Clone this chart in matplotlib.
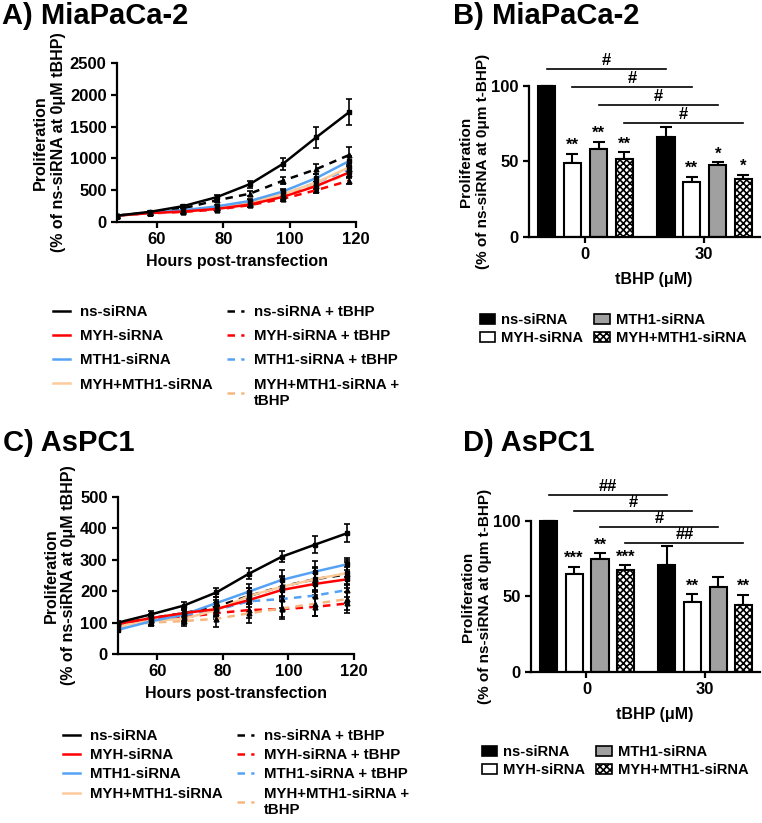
import matplotlib
matplotlib.use('Agg')
import matplotlib.pyplot as plt
from matplotlib.lines import Line2D
from matplotlib.patches import Patch
import numpy as np

plt.rcParams['font.family'] = ['Liberation Sans', 'DejaVu Sans']
plt.rcParams['font.weight'] = 'bold'
plt.rcParams['axes.labelweight'] = 'bold'
plt.rcParams['axes.linewidth'] = 1.6
plt.rcParams['xtick.major.width'] = 1.6
plt.rcParams['ytick.major.width'] = 1.6
plt.rcParams['xtick.major.size'] = 4
plt.rcParams['ytick.major.size'] = 4
plt.rcParams['hatch.linewidth'] = 1.2

# ---- data ----
hours = [48, 58, 68, 78, 88, 98, 108, 118]
line_labels = ['ns-siRNA', 'MYH-siRNA', 'MTH1-siRNA', 'MYH+MTH1-siRNA',
               'ns-siRNA + tBHP', 'MYH-siRNA + tBHP', 'MTH1-siRNA + tBHP',
               'MYH+MTH1-siRNA +\ntBHP']
line_colors = ['black', '#ff0000', '#55a2f5', '#fdcb9c',
               'black', '#ff0000', '#55a2f5', '#f6b77e']

mia_vals = [
    [100, 160, 250, 390, 595, 915, 1330, 1730],
    [100, 140, 165, 205, 275, 395, 565, 780],
    [100, 145, 185, 245, 330, 480, 690, 960],
    [100, 140, 175, 230, 310, 440, 620, 860],
    [100, 150, 215, 340, 445, 650, 830, 1055],
    [100, 135, 160, 195, 265, 365, 500, 650],
    [100, 140, 175, 225, 300, 430, 620, 830],
    [100, 138, 170, 215, 290, 410, 570, 760],
]
mia_err = [
    [5, 15, 25, 40, 55, 95, 160, 200],
    [5, 12, 15, 20, 30, 40, 60, 70],
    [5, 12, 15, 20, 30, 45, 65, 80],
    [5, 12, 15, 20, 30, 40, 60, 75],
    [5, 12, 20, 30, 40, 60, 80, 125],
    [5, 10, 15, 20, 25, 35, 50, 60],
    [5, 12, 15, 20, 30, 40, 60, 80],
    [5, 12, 15, 20, 30, 40, 55, 70],
]

aspc_vals = [
    [100, 126, 154, 196, 256, 310, 348, 385],
    [96, 114, 130, 143, 172, 204, 223, 238],
    [77, 104, 125, 162, 199, 236, 262, 286],
    [88, 106, 112, 140, 185, 214, 238, 258],
    [95, 114, 130, 151, 185, 215, 238, 254],
    [90, 112, 117, 130, 140, 143, 150, 161],
    [85, 108, 124, 140, 168, 175, 186, 204],
    [86, 100, 105, 112, 130, 145, 160, 175],
]
aspc_err = [
    [6, 12, 13, 15, 18, 17, 27, 28],
    [6, 10, 12, 15, 22, 28, 35, 40],
    [6, 12, 15, 20, 25, 30, 35, 20],
    [6, 12, 15, 20, 25, 30, 35, 35],
    [6, 12, 15, 20, 25, 35, 40, 45],
    [6, 12, 15, 20, 25, 25, 30, 22],
    [6, 12, 18, 22, 30, 30, 35, 40],
    [6, 12, 15, 25, 30, 35, 40, 45],
]

bar_labels = ['ns-siRNA', 'MYH-siRNA', 'MTH1-siRNA', 'MYH+MTH1-siRNA']
doses = ['0', '30']
mia_bar = [[100, 66], [49, 36.5], [58.5, 47.5], [51.5, 38.5]]
mia_bar_err = [[0, 7], [6, 3.5], [4.5, 2], [4.5, 2.5]]
mia_stars = [['', ''], ['**', '**'], ['**', '*'], ['**', '*']]
mia_hash = ['#', '#', '#', '#']

aspc_bar = [[100, 71], [64.5, 46.5], [75, 56], [67.5, 44.5]]
aspc_bar_err = [[0, 12.5], [5, 5], [3.5, 7], [3, 6.5]]
aspc_stars = [['', ''], ['***', '**'], ['**', ''], ['***', '**']]
aspc_hash = ['##', '#', '#', '##']

W, H = 762, 823
fig = plt.figure(figsize=(W / 100, H / 100), dpi=100)


def rect(left, top, right, bottom):
    return [left / W, 1 - bottom / H, (right - left) / W, (bottom - top) / H]


def style(ax, size=12):
    ax.spines['top'].set_visible(False)
    ax.spines['right'].set_visible(False)
    ax.tick_params(labelsize=size)
    for t in ax.get_xticklabels() + ax.get_yticklabels():
        t.set_fontweight('bold')


def line_panel(ax, vals, errs, ymax, ystep):
    order = [4, 5, 6, 7, 3, 2, 1, 0]
    for i in order:
        ls = '-' if i < 4 else (0, (3, 2.5))
        mk = 's' if i < 4 else '^'
        ax.errorbar(hours, vals[i], yerr=errs[i], color=line_colors[i], ls=ls,
                    lw=1.8, marker=mk, ms=3.5, mfc='black', mec='black',
                    ecolor='black', elinewidth=1.2, capsize=2.5, capthick=1.2)
    ax.set_xlim(48, 120)
    ax.set_ylim(0, ymax)
    ax.set_xticks([60, 80, 100, 120])
    ax.set_yticks(np.arange(0, ymax + 1, ystep))
    ax.set_xlabel('Hours post-transfection', fontsize=11.5, labelpad=5)
    ax.set_ylabel('Proliferation\n(% of ns-siRNA at 0μM tBHP)', fontsize=11.5, labelpad=3)
    style(ax)


def line_legend(ax, x, y, spacing):
    handles = []
    for i in range(8):
        ls = '-' if i < 4 else (0, (3, 2.5))
        handles.append(Line2D([], [], color=line_colors[i], ls=ls, lw=1.8))
    ax.legend(handles, line_labels, ncol=2, loc='upper left',
              bbox_to_anchor=(x / W, 1 - y / H), bbox_transform=fig.transFigure,
              frameon=False, fontsize=10.8, handlelength=1.15, handletextpad=0.65,
              columnspacing=0.95, labelspacing=spacing, borderpad=0, borderaxespad=0)


bar_face = ['black', 'white', '#a0a0a0', 'white']
bar_hatch = [None, None, None, 'xxxxx']
offsets = [-0.32, -0.105, 0.115, 0.33]
bw = 0.145


def bar_panel(ax, means, errs, stars, hashes, levels):
    x = np.arange(len(doses))
    for i in range(4):
        m = np.array(means[i])
        e = np.array(errs[i])
        ax.bar(x + offsets[i], m, bw, color=bar_face[i], edgecolor='black',
               lw=1.5, hatch=bar_hatch[i], zorder=2)
        ax.errorbar(x + offsets[i], m, yerr=[np.zeros_like(e), e], fmt='none',
                    ecolor='black', elinewidth=1.5, capsize=4, capthick=1.5, zorder=1)
        for j in range(len(doses)):
            if stars[i][j]:
                ax.text(x[j] + offsets[i], m[j] + e[j] + 0.5, stars[i][j],
                        ha='center', va='bottom', fontsize=12)
    for i in range(4):
        x0, x1 = offsets[i], 1 + offsets[i]
        ax.plot([x0, x1], [levels[i], levels[i]], color='black', lw=1.2, clip_on=False)
        ax.text((x0 + x1) / 2, levels[i] + 0.8, hashes[i], ha='center', va='bottom',
                fontsize=12)
    ax.set_xlim(-0.47, 1.47)
    ax.set_ylim(0, 125)
    ax.set_yticks([0, 50, 100])
    ax.spines['left'].set_bounds(0, 100)
    ax.set_xticks(x)
    ax.set_xticklabels(doses)
    ax.set_xlabel('tBHP (μM)', fontsize=11.5, labelpad=7)
    ax.xaxis.label.set_x(0.54)
    ax.set_ylabel('Proliferation\n(% of ns-siRNA at 0μm t-BHP)', fontsize=11, labelpad=1)
    ax.yaxis.label.set_y(0.4)
    style(ax)


def bar_legend(ax, x, y):
    handles = [Patch(facecolor=bar_face[i], edgecolor='black', hatch=bar_hatch[i], lw=1.2)
               for i in range(4)]
    ax.legend(handles, bar_labels, ncol=2, loc='upper left',
              bbox_to_anchor=(x / W, 1 - y / H), bbox_transform=fig.transFigure,
              frameon=False, fontsize=10.6, handlelength=1.05, handleheight=0.7,
              handletextpad=0.4, columnspacing=0.75, labelspacing=0.3,
              borderpad=0, borderaxespad=0)


axA = fig.add_axes(rect(117, 63, 356, 222))
line_panel(axA, mia_vals, mia_err, 2500, 500)
line_legend(axA, 53, 305, 0.68)

axC = fig.add_axes(rect(118, 497, 354, 654))
line_panel(axC, aspc_vals, aspc_err, 500, 100)
line_legend(axC, 63, 729, 0.35)

axB = fig.add_axes(rect(529, 48, 760, 237))
bar_panel(axB, mia_bar, mia_bar_err, mia_stars, mia_hash, [111, 99, 87, 75.5])
bar_legend(axB, 480, 313)

axD = fig.add_axes(rect(531, 483, 760, 672))
bar_panel(axD, aspc_bar, aspc_bar_err, aspc_stars, aspc_hash, [117, 106.5, 96, 85.5])
bar_legend(axD, 482, 745)

for txt, x, y in [('A) MiaPaCa-2', 2, 16), ('B) MiaPaCa-2', 453, 16),
                  ('C) AsPC1', 3, 443), ('D) AsPC1', 463, 443)]:
    fig.text(x / W, 1 - y / H, txt, fontsize=21, fontweight='bold', va='center', ha='left')

fig.savefig('out.png', dpi=100)
